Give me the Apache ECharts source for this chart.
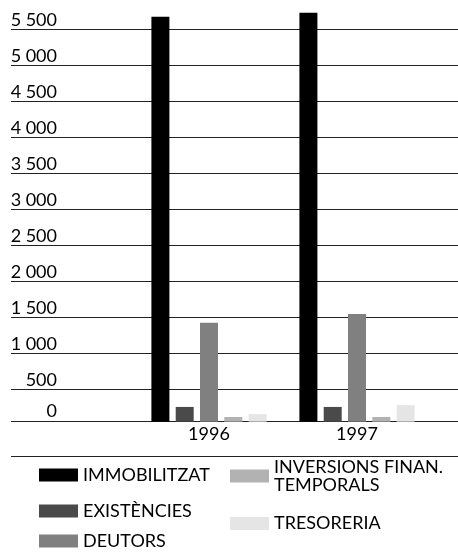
<!DOCTYPE html>
<html>
<head>
<meta charset="utf-8">
<script src="https://cdn.jsdelivr.net/npm/echarts@6/dist/echarts.min.js"></script>
<style>
  html, body { margin: 0; padding: 0; background: #fff; }
  #chart { width: 458px; height: 554px; }
</style>
</head>
<body>
<div id="chart"></div>
<script>
// dades
const years = ['1996', '1997']
const immobilitzat = [5620, 5675]
const existencies = [205, 205]
const deutors = [1375, 1495]
const inversions = [65, 65]
const tresoreria = [105, 230]

const seriesNames = ['IMMOBILITZAT', 'EXISTÈNCIES', 'DEUTORS', 'INVERSIONS FINAN.\nTEMPORALS', 'TRESORERIA']
const seriesColors = ['#000000', '#4a4a4a', '#808080', '#b2b2b2', '#e5e5e5']

// etiquetes de l'eix vertical (0, 500, 1 000 ... 5 500)
const tickLabels = ['0', '500', '1 000', '1 500', '2 000', '2 500', '3 000', '3 500', '4 000', '4 500', '5 000', '5 500']

const FONT = 'Lato'
const textColor = '#000'
const lineColor = '#222'

const chart = echarts.init(document.getElementById('chart'))

const seriesData = [immobilitzat, existencies, deutors, inversions, tresoreria]

// una llegenda per element, per reproduir la disposició en dues columnes
const legendPos = [
  {left: 39, top: 466},
  {left: 39, top: 502},
  {left: 39, top: 532},
  {left: 230, top: 450},
  {left: 230, top: 514.5},
]

const labelFmt = v => {
  const i = Math.round(v / 500)
  return i >= 0 && i < tickLabels.length ? tickLabels[i] : ''
}

const option = {
  animation: false,
  backgroundColor: '#fff',
  textStyle: {fontFamily: FONT},
  grid: [
    // línies de 500 a 5 500
    {left: 11, right: 0, top: 29, bottom: 164.7},
    // barres
    {left: 135, right: 27, top: 3.8, bottom: 132.3},
    // línia del zero i vora inferior
    {left: 11, right: 0, top: 421.7, bottom: 98},
  ],
  xAxis: [
    {gridIndex: 0, type: 'value', show: false},
    {
      gridIndex: 1,
      type: 'category',
      data: years,
      axisLine: {show: false},
      axisTick: {show: false},
      axisLabel: {color: textColor, fontFamily: FONT, fontSize: 18, lineHeight: 18, margin: 3},
    },
    {gridIndex: 2, type: 'value', show: false},
  ],
  yAxis: [
    {
      gridIndex: 0,
      type: 'value',
      min: 500,
      max: 5500,
      interval: 500,
      axisLine: {show: false},
      axisTick: {show: false},
      splitLine: {lineStyle: {color: lineColor, width: 1}},
      axisLabel: {
        inside: true,
        margin: 46,
        align: 'right',
        verticalAlign: 'bottom',
        color: textColor,
        fontFamily: FONT,
        fontSize: 18,
        lineHeight: 18,
        showMinLabel: true,
        showMaxLabel: true,
        formatter: labelFmt,
      },
    },
    {gridIndex: 1, type: 'value', min: 0, max: 5800, show: false, splitLine: {show: false}},
    {
      gridIndex: 2,
      type: 'value',
      min: -500,
      max: 0,
      interval: 500,
      axisLine: {show: false},
      axisTick: {show: false},
      splitLine: {lineStyle: {color: lineColor, width: 1}},
      axisLabel: {
        inside: true,
        margin: 46,
        align: 'right',
        verticalAlign: 'bottom',
        padding: [0, 0, 2, 0],
        color: textColor,
        fontFamily: FONT,
        fontSize: 18,
        lineHeight: 18,
        showMinLabel: true,
        showMaxLabel: true,
        formatter: labelFmt,
      },
    },
  ],
  legend: seriesNames.map((name, i) => ({
    data: [name],
    left: legendPos[i].left,
    top: legendPos[i].top,
    padding: 0,
    icon: 'rect',
    itemWidth: 39,
    itemHeight: 13,
    selectedMode: false,
    textStyle: {
      color: textColor,
      fontFamily: FONT,
      fontSize: 18,
      lineHeight: 18,
      padding: i === 3 ? [16, 0, 0, 0] : 0,
    },
  })),
  series: seriesNames.map((name, i) => ({
    name,
    type: 'bar',
    xAxisIndex: 1,
    yAxisIndex: 1,
    data: seriesData[i],
    barWidth: 18,
    barGap: '35%',
    itemStyle: {color: seriesColors[i]},
  })),
}

chart.setOption(option)
</script>
</body>
</html>
